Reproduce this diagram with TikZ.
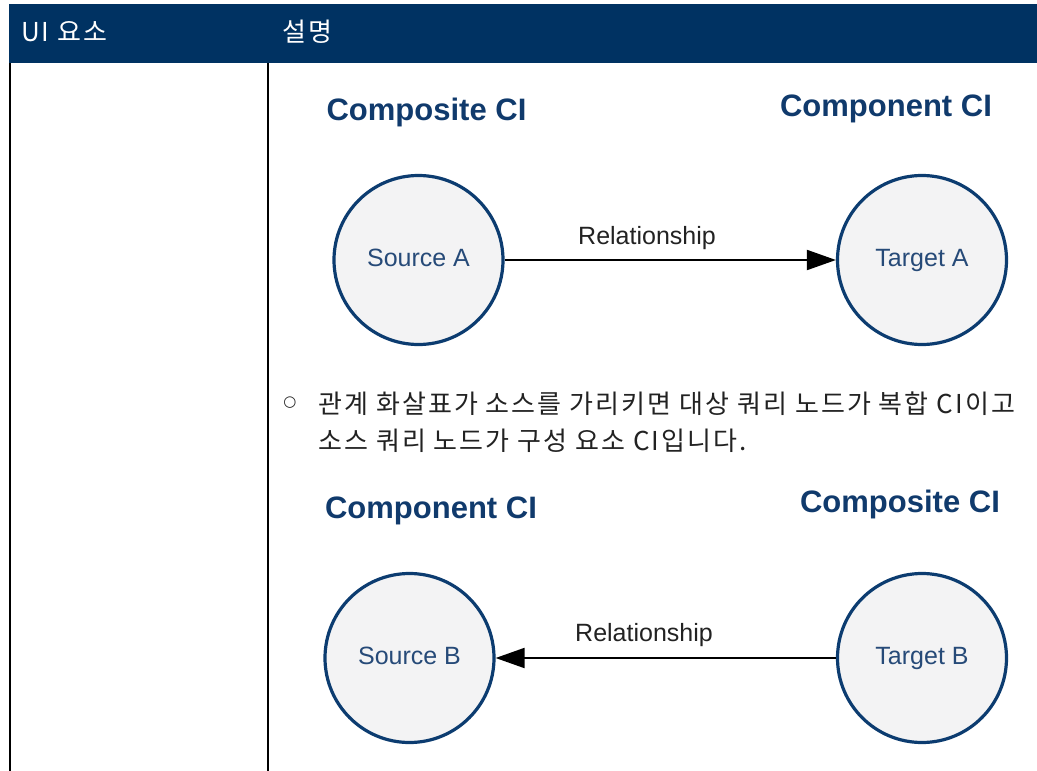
\documentclass[tikz,border=0pt]{standalone}
\usepackage{fontspec}
\setmainfont{Liberation Sans}
\newfontfamily\krfont[LetterSpace=7.5]{Noto Sans CJK KR}
\newfontfamily\notefont[LetterSpace=8]{Noto Sans CJK KR}
\newfontfamily\symfont{DejaVu Sans}
\usepackage{tikz}
\usetikzlibrary{arrows.meta, positioning}
\definecolor{hdrblue}{RGB}{0,50,98}
\definecolor{cinavy}{RGB}{12,60,112}
\definecolor{cifill}{RGB}{243,243,244}
\definecolor{titlenavy}{RGB}{16,58,108}
\definecolor{labnavy}{RGB}{38,74,120}
\definecolor{bodytext}{RGB}{34,34,34}

\begin{document}
\begin{tikzpicture}[
  x=1pt, y=-1pt,
  hdr/.style={anchor=west, inner sep=0pt, text=white,
              font=\krfont\fontsize{26}{30}\selectfont},
  title/.style={anchor=base, inner sep=0pt, text=titlenavy,
                font=\fontsize{31}{36}\selectfont\bfseries},
  ci/.style={circle, draw=cinavy, line width=3.2pt, fill=cifill,
             minimum size=169pt, inner sep=0pt, text=labnavy,
             text height=18pt, text depth=5pt,
             font=\fontsize{25}{30}\selectfont},
  rel/.style={inner sep=0pt, text=bodytext, font=\fontsize{25}{30}\selectfont},
  note/.style={anchor=base west, inner sep=0pt, text=bodytext,
               font=\notefont\fontsize{26}{37}\selectfont},
  arr/.style={-{Triangle[length=29pt, width=20pt]}, line width=2pt}
]
\useasboundingbox (0,0) rectangle (1037,771);
% table
\fill[hdrblue] (9,4) rectangle (1037,63);
\draw[line width=2pt] (10,63) -- (10,771);
\draw[line width=2pt] (267.7,63) -- (267.7,771);
\node[hdr] (hui) at (21,32) {UI 요소};
\node[hdr] (hdesc) at (282,32) {설명};

% first case
\node[title] (compA) at (426.5,120) {Composite CI};
\node[title] (compoA) at (886,116) {Component CI};
\node[ci] (srcA) at (418.5,260) {Source A};
\node[ci] (tgtA) at (922,260) {Target A};
\node[rel] (relA) at (647,238) {Relationship};
\draw[arr] (srcA) -- (tgtA);

% note
\node[inner sep=0pt, text=bodytext, font=\symfont\fontsize{15}{18}\selectfont] (bul) at (290,403) {○};
\node[note] (note1) at (318,413) {관계 화살표가 소스를 가리키면 대상 쿼리 노드가 복합 CI이고};
\node[note] (note2) at (318,450) {소스 쿼리 노드가 구성 요소 CI입니다.};

% second case
\node[title] (compoB) at (431,518) {Component CI};
\node[title] (compB) at (900,512) {Composite CI};
\node[ci] (srcB) at (409.5,658) {Source B};
\node[ci] (tgtB) at (922,658) {Target B};
\node[rel] (relB) at (644,635) {Relationship};
\draw[arr] (tgtB) -- (srcB);
\end{tikzpicture}
\end{document}
